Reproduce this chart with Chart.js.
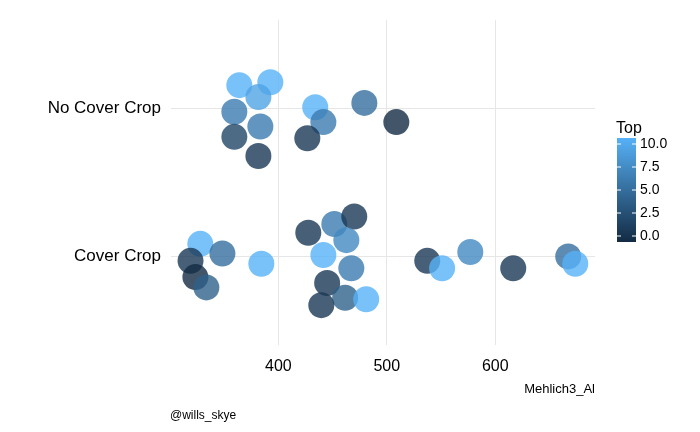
<!DOCTYPE html><html><head><script src="https://cdn.jsdelivr.net/npm/chart.js@4"></script>
<style>body{margin:0;background:#fff}</style></head><body><canvas id="c" width="700" height="432"></canvas>
<script>
const categories=["Cover Crop","No Cover Crop"];
const alValues=[364,392.6,381.6,359.4,383.4,359.4,381.6,434,441.5,426.7,479.3,508.8,
328,348.4,319,323.5,333.6,384.3,427.6,451.6,470,462.7,441.5,467.3,445,461.6,481,439.6,537.3,551,577,616.6,667.3,673.8];
const yJitter=[1.16,1.18,1.08,0.98,0.88,0.81,0.68,1.01,0.91,0.80,1.04,0.91,
0.085,0.02,-0.03,-0.14,-0.21,-0.05,0.16,0.22,0.27,0.11,0.01,-0.08,-0.18,-0.28,-0.29,-0.33,-0.03,-0.08,0.03,-0.08,0,-0.05];
const topValues=[10,10,9,6,6,2,1,10,6,1,5,0,
10,5,1,0,4,10,1,6,1,7,10,6,1,4,10,1,1,10,7,1,5,10];
const xTicks=[400,500,600];
const legendTicks=[0,2.5,5,7.5,10];
function col(v,a){const t=v/10;const c0=[19,43,67],c1=[86,177,247];
 const c=c0.map((x,i)=>Math.round(x+(c1[i]-x)*t));return `rgba(${c[0]},${c[1]},${c[2]},${a})`;}
const pts=alValues.map((x,i)=>({x,y:yJitter[i]}));
const extra={id:'extra',afterDraw(ch){const g=ch.ctx;g.save();
 g.fillStyle='#000';g.font='13px "Liberation Sans"';g.textAlign='right';g.textBaseline='middle';
 g.fillText('Mehlich3_Al',595,389);g.textAlign='left';g.font='12px "Liberation Sans"';g.fillText('@wills_skye',170,416);
 g.font='16px "Liberation Sans"';g.fillText('Top',616,129);
 const top=138,bot=242,y0=236,y10=144;const gr=g.createLinearGradient(0,bot,0,top);
 gr.addColorStop(0,col(0,1));gr.addColorStop(1,col(10,1));g.fillStyle=gr;g.fillRect(617,top,19,bot-top);
 g.font='14px "Liberation Sans"';g.fillStyle='#000';
 legendTicks.forEach(v=>{const y=y0+(y10-y0)*v/10;g.strokeStyle='#fff';g.beginPath();g.moveTo(617,y);g.lineTo(621,y);g.moveTo(632,y);g.lineTo(636,y);g.stroke();
  g.fillText(v.toFixed(1),640,y);});
 g.restore();}};
new Chart(document.getElementById('c'),{type:'scatter',
 data:{datasets:[{data:pts,pointRadius:13,pointHoverRadius:13,borderWidth:0,
  backgroundColor:topValues.map(v=>col(v,0.8))}]},
 plugins:[extra],
 options:{responsive:false,animation:false,layout:{padding:{top:5,right:105,left:0,bottom:0}},
 plugins:{legend:{display:false},tooltip:{enabled:false}},
 scales:{x:{min:301,max:692,border:{display:false},grid:{color:'#e6e6e6',drawTicks:false},
  afterBuildTicks:a=>{a.ticks=xTicks.map(v=>({value:v}))},afterFit:a=>{a.height=87},
  ticks:{color:'#000',font:{size:16,family:'Liberation Sans'},padding:12}},
 y:{min:-0.6,max:1.6,border:{display:false},grid:{color:'#e6e6e6',drawTicks:false},
  afterBuildTicks:a=>{a.ticks=[{value:0},{value:1}]},afterFit:a=>{a.width=171},
  ticks:{color:'#000',font:{size:17,family:'Liberation Sans'},padding:10,callback:v=>categories[v]}}}}});
</script></body></html>
